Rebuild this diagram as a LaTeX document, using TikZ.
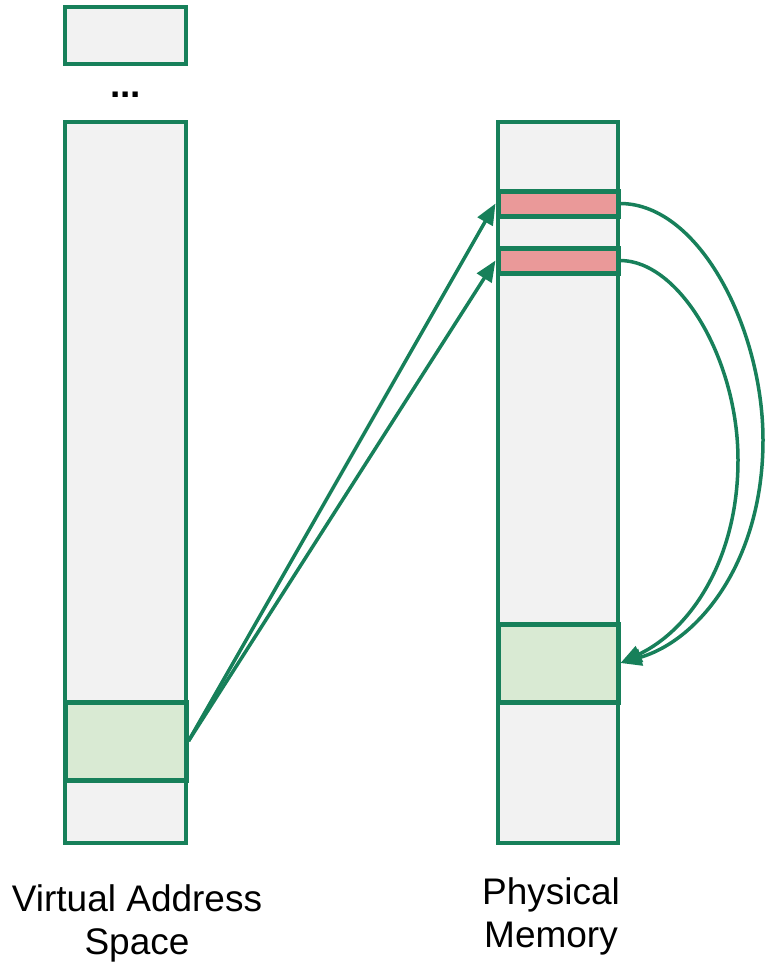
\documentclass[tikz,border=0pt]{standalone}
\usepackage{fontspec}
\setmainfont{Liberation Sans}
\usetikzlibrary{arrows.meta}
\definecolor{edgegreen}{HTML}{17805A}
\definecolor{colgray}{HTML}{F2F2F2}
\definecolor{pagegreen}{HTML}{D9EAD3}
\definecolor{pagered}{HTML}{EA9999}
\begin{document}
\begin{tikzpicture}[x=1pt, y=-1pt,
  column/.style={draw=edgegreen, fill=colgray, line width=4pt, inner sep=0pt,
    minimum width=121pt, minimum height=721pt},
  greenpage/.style={draw=edgegreen, fill=pagegreen, line width=5pt, inner sep=0pt,
    minimum width=121pt, minimum height=78pt},
  redpage/.style={draw=edgegreen, fill=pagered, line width=5pt, inner sep=0pt,
    minimum width=120pt, minimum height=25pt},
  link/.style={draw=edgegreen, line width=3.5pt, -{Triangle[length=21pt,width=17pt]}},
  caption/.style={align=center, inner sep=0pt, font=\fontsize{37}{43}\selectfont}]
\useasboundingbox (0,0) rectangle (765,966);

% Virtual address space
\node[column, minimum height=57pt] (vtop) at (125.5,35.5) {};
\node[font=\fontsize{37}{43}\selectfont\bfseries, inner sep=0pt, anchor=base] (vdots) at (125.5,97) {...};
\node[column] (vcol) at (125.5,482.5) {};
\node[greenpage] (vpage) at (125.5,741) {};

% Physical memory
\node[column, minimum width=120pt] (pcol) at (558,482.5) {};
\node[redpage] (red1) at (558,203.5) {};
\node[redpage] (red2) at (558,260.5) {};
\node[greenpage, minimum width=120pt] (ppage) at (558,663) {};

% Mappings
\draw[link] (vpage.east) -- (red1.west);
\draw[link] (vpage.east) -- (red2.west);
\draw[link] (red1.east) .. controls (700,204) and (763,330) .. (763,440)
  .. controls (763,560) and (700,640) .. (ppage.east);
\draw[link] (red2.east) .. controls (680,261) and (738,360) .. (738,460)
  .. controls (738,560) and (690,630) .. (ppage.east);

% Labels
\node[caption, anchor=north] (vlabel) at (137,884) {Virtual Address\\Space};
\node[caption, anchor=north] (plabel) at (551,877) {Physical\\Memory};
\end{tikzpicture}
\end{document}
